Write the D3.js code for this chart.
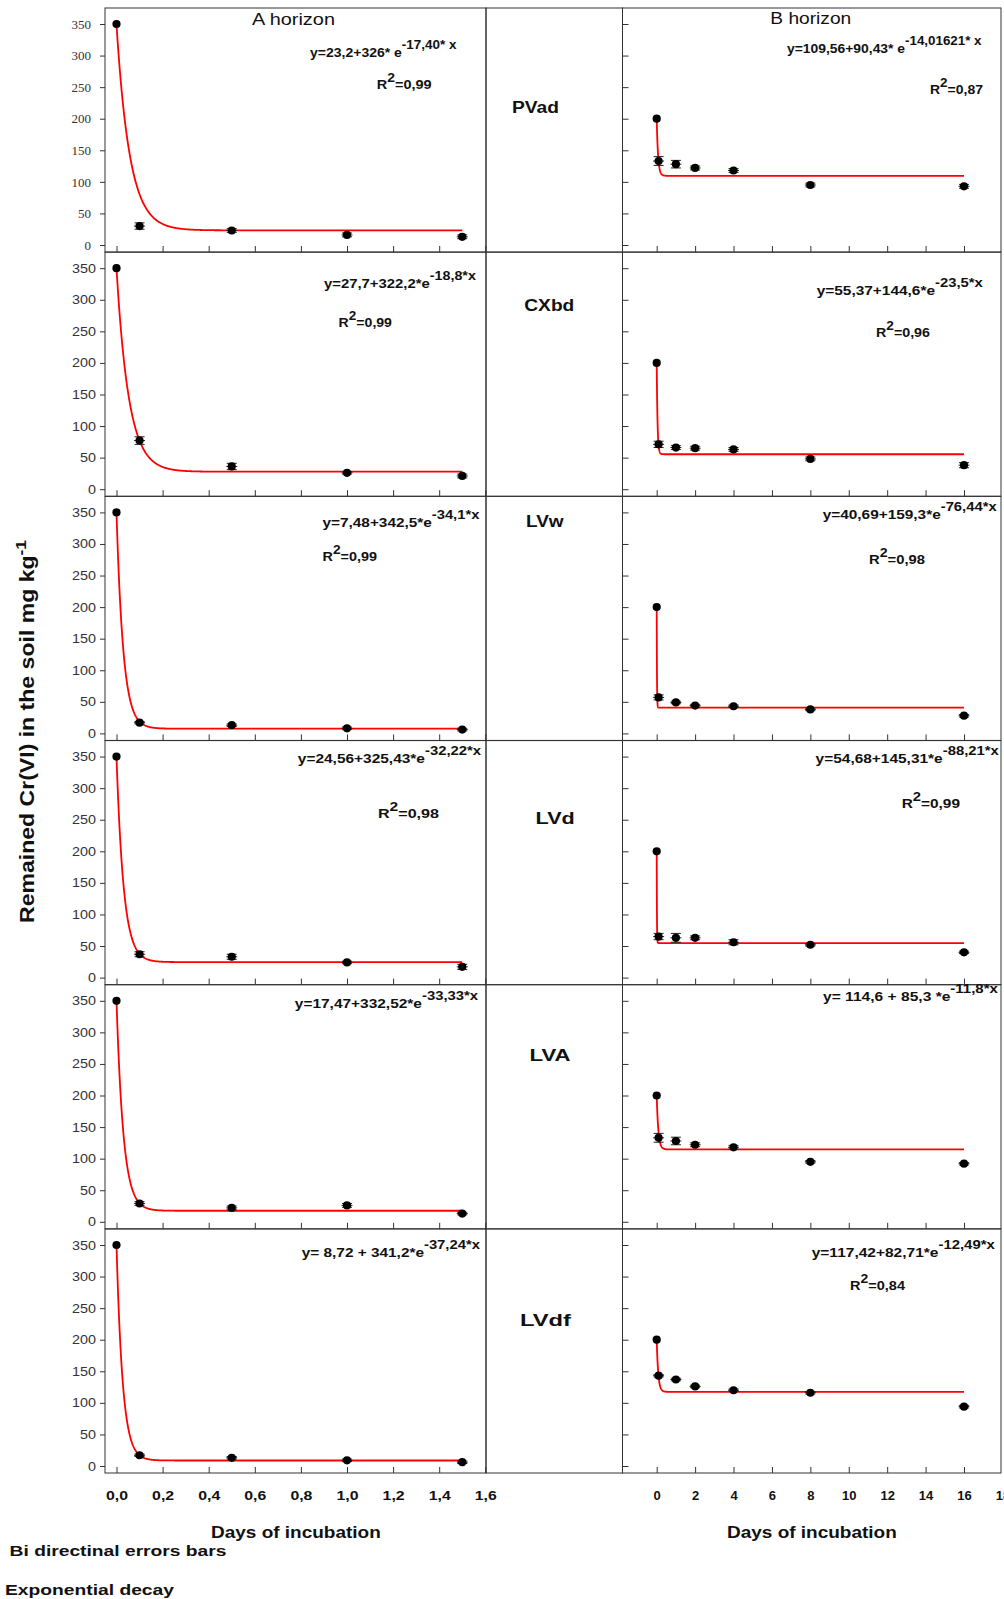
<!DOCTYPE html>
<html><head><meta charset="utf-8">
<script src="https://cdn.jsdelivr.net/npm/d3@7"></script>
<style>body{margin:0;background:#fff}svg{display:block}</style>
</head><body><svg id="c" width="1004" height="1599"></svg>
<script>
// ---------------- DATA ----------------
const soils = ["PVad","CXbd","LVw","LVd","LVA","LVdf"];
const daysA = [0, 0.1, 0.5, 1, 1.5];
const daysB = [0, 0.1, 1, 2, 4, 8, 16];
const crA = [
  [350, 30, 23, 16, 13],
  [350, 77, 36, 26, 21],
  [350, 17, 13, 8, 6],
  [350, 37, 33, 24, 17],
  [350, 29, 22, 26, 13],
  [350, 17, 13, 9, 6]
];
const crB = [
  [200, 133, 128, 122, 118, 95, 93],
  [200, 71, 66, 65, 63, 48, 38],
  [200, 57, 49, 44, 43, 38, 28],
  [200, 65, 63, 63, 56, 52, 40],
  [200, 133, 128, 122, 118, 95, 92],
  [200, 143, 137, 126, 120, 116, 94]
];
const errA = [
  [0, 5, 3, 3, 3],
  [0, 6, 5, 2, 3],
  [0, 2, 2, 2, 2],
  [0, 4, 4, 2, 4],
  [0, 3, 3, 3, 2],
  [0, 2, 2, 2, 2]
];
const errB = [
  [0, 7, 6, 3, 3, 3, 3],
  [0, 5, 3, 3, 3, 3, 4],
  [0, 4, 2, 2, 2, 2, 2],
  [0, 5, 7, 3, 4, 2, 2],
  [0, 7, 6, 3, 3, 2, 2],
  [0, 2, 2, 2, 2, 2, 2]
];
// fitted exponential decay y = a + b*exp(-k*x), as printed on the chart
const fitA_a = [23.2, 27.7, 7.48, 24.56, 17.47, 8.72];
const fitA_b = [326, 322.2, 342.5, 325.43, 332.52, 341.2];
const fitA_k = [17.40, 18.8, 34.1, 32.22, 33.33, 37.24];
const fitB_a = [109.56, 55.37, 40.69, 54.68, 114.6, 117.42];
const fitB_b = [90.43, 144.6, 159.3, 145.31, 85.3, 82.71];
const fitB_k = [14.01621, 23.5, 76.44, 88.21, 11.8, 12.49];
const eqA_main = ["y=23,2+326* e","y=27,7+322,2*e","y=7,48+342,5*e","y=24,56+325,43*e","y=17,47+332,52*e","y= 8,72 + 341,2*e"];
const eqA_exp  = ["-17,40* x","-18,8*x","-34,1*x","-32,22*x","-33,33*x","-37,24*x"];
const eqB_main = ["y=109,56+90,43* e","y=55,37+144,6*e","y=40,69+159,3*e","y=54,68+145,31*e","y= 114,6 + 85,3 *e","y=117,42+82,71*e"];
const eqB_exp  = ["-14,01621* x","-23,5*x","-76,44*x","-88,21*x","-11,8*x","-12,49*x"];
const r2A = ["0,99","0,99","0,99","0,98",null,null];
const r2B = ["0,87","0,96","0,98","0,99",null,"0,84"];
const yTicks = [0, 50, 100, 150, 200, 250, 300, 350];
const xTicksA = [0, 0.2, 0.4, 0.6, 0.8, 1.0, 1.2, 1.4, 1.6];
const xTicksB = [0, 2, 4, 6, 8, 10, 12, 14, 16, 18];

// ---------------- LAYOUT ----------------
const L = {
  rowTop0: 8, rowH: 244.2, boxH: 244,
  aLeft: 105, aRight: 486, midRight: 622.5, bRight: 1001,
  xA0: 116.5, xA16: 485.3, xB0: 656.7, xB16: 964,
  y0off: 237, y350off: 16
};
const eqPosA = [[310,56.7,146.7],[324,288,152],[322.5,526.7,157],[297.8,763.3,183.6],[294.8,1008.3,183.6],[301.7,1257.3,178.3]];
const r2PosA = [[376.7,89.3,55],[338.6,327,53.4],[322.5,560.7,54.5],[378,818,61],null,null];
const eqPosB = [[787,53,194.7],[816.7,295,166.3],[822.7,519.3,174],[815.6,763,183.4],[823,1001,175],[811.7,1256.7,183.3]];
const r2PosB = [[930,94,53],[876,336.7,54],[869,564,56],[901.7,808,58.3],null,[850,1290,55]];
const soilPos = [[512,112.7,47],[524.3,310.7,50],[526,527.3,37.6],[535.6,824.3,39.2],[529.6,1060.7,41],[520,1326,51]];

const SANS = "'Liberation Sans', Arial, Helvetica, sans-serif";
const SERIF = "'Liberation Serif', 'Times New Roman', serif";
const svg = d3.select("#c");

function stretchText(parent, x, y, width, parts, opts) {
  const g = parent.append("g");
  const t = g.append("text")
    .attr("font-family", opts.family || SANS)
    .attr("font-weight", opts.weight || "bold")
    .attr("fill", opts.fill || "#111");
  parts.forEach(p => {
    t.append("tspan").attr("dy", p.dy || 0).attr("font-size", p.size).text(p.t);
  });
  const w = t.node().getComputedTextLength();
  const sx = width ? width / w : 1;
  g.attr("transform", `translate(${x},${y}) scale(${sx},1)`);
  return g;
}

const fmtA = d => d3.format(".1f")(d).replace(".", ",");

for (let i = 0; i < 6; i++) {
  const top = L.rowTop0 + i * L.rowH;
  const bottom = top + L.boxH;
  const y = d3.scaleLinear().domain([0, 350]).range([top + L.y0off, top + L.y350off]);
  const xA = d3.scaleLinear().domain([0, 1.6]).range([L.xA0, L.xA16]);
  const xB = d3.scaleLinear().domain([0, 16]).range([L.xB0, L.xB16]);
  const last = i === 5;

  // boxes
  const box = (x0, x1) => svg.append("rect").attr("x", x0).attr("y", top)
    .attr("width", x1 - x0).attr("height", bottom - top)
    .attr("fill", "none").attr("stroke", "#333").attr("stroke-width", 1);
  box(L.aLeft, L.aRight); box(L.aRight, L.midRight); box(L.midRight, L.bRight);

  // A y axis (labels)
  const gy = svg.append("g").attr("transform", `translate(${L.aLeft},0)`)
    .call(d3.axisLeft(y).tickValues(yTicks).tickSize(5).tickPadding(i === 0 ? 9 : 4).tickFormat(d3.format("d")));
  gy.select(".domain").remove();
  gy.selectAll("line").attr("stroke", "#333");
  const pad = i === 0 ? 14 : 9;
  gy.selectAll("text").attr("font-family", i === 0 ? SERIF : SANS)
    .attr("font-size", i === 0 ? 13 : 12.5).attr("fill", "#333")
    .attr("x", 0).attr("transform", `translate(${-pad},0) scale(${i === 0 ? 1 : 1.15},1)`);

  // A x axis
  const gx = svg.append("g").attr("transform", `translate(0,${bottom})`)
    .call(d3.axisBottom(xA).tickValues(xTicksA).tickSize(-6).tickSizeOuter(0)
      .tickPadding(17.5).tickFormat(last ? fmtA : ""));
  gx.select(".domain").remove();
  gx.selectAll("line").attr("stroke", "#333");
  gx.selectAll("text").attr("font-family", SANS).attr("font-weight", "bold").attr("font-size", 13)
    .attr("fill", "#111").attr("transform", "scale(1.22,1)");

  // B y axis (inside ticks, no labels)
  const gyb = svg.append("g").attr("transform", `translate(${L.midRight},0)`)
    .call(d3.axisLeft(y).tickValues(yTicks).tickSize(-6).tickFormat(""));
  gyb.select(".domain").remove();
  gyb.selectAll("line").attr("stroke", "#333");

  // B x axis
  const gxb = svg.append("g").attr("transform", `translate(0,${bottom})`)
    .call(d3.axisBottom(xB).tickValues(xTicksB).tickSize(-6).tickSizeOuter(0)
      .tickPadding(17.5).tickFormat(last ? d3.format("d") : ""));
  gxb.select(".domain").remove();
  gxb.selectAll("line").attr("stroke", "#333").filter(d => d > 16).remove();
  gxb.selectAll("text").attr("font-family", SANS).attr("font-weight", "bold").attr("font-size", 13).attr("fill", "#111");

  // fitted curves
  const line = d3.line().x(d => d[0]).y(d => d[1]);
  const curveA = d3.range(0, 1.5001, 0.002).map(t => [xA(t), y(fitA_a[i] + fitA_b[i] * Math.exp(-fitA_k[i] * t))]);
  const curveB = d3.range(0, 16.0001, 0.005).map(t => [xB(t), y(fitB_a[i] + fitB_b[i] * Math.exp(-fitB_k[i] * t))]);
  [curveA, curveB].forEach(c => svg.append("path").attr("d", line(c))
    .attr("fill", "none").attr("stroke", "#ff0000").attr("stroke-width", 1.8));

  // error bars + points
  const drawPts = (xs, vals, errs, xS) => {
    const g = svg.append("g");
    vals.forEach((v, j) => {
      const cx = xS(xs[j]);
      const e = errs[j];
      if (e > 0) {
        g.append("line").attr("x1", cx).attr("x2", cx).attr("y1", y(v - e)).attr("y2", y(v + e))
          .attr("stroke", "#222").attr("stroke-width", 1);
        [v - e, v + e].forEach(w => g.append("line").attr("x1", cx - 5).attr("x2", cx + 5)
          .attr("y1", y(w)).attr("y2", y(w)).attr("stroke", "#222").attr("stroke-width", 1));
        g.append("line").attr("x1", cx - 5.5).attr("x2", cx + 5.5).attr("y1", y(v)).attr("y2", y(v))
          .attr("stroke", "#222").attr("stroke-width", 1);
      }
      g.append("circle").attr("cx", cx).attr("cy", y(v)).attr("r", 4.1).attr("fill", "#000");
    });
  };
  drawPts(daysA, crA[i], errA[i], xA);
  drawPts(daysB, crB[i], errB[i], xB);

  // equations
  const eqParts = (m, e) => [{t: m, size: 13}, {t: e, size: 12.5, dy: -8}];
  const r2Parts = r => [{t: "R", size: 13}, {t: "2", size: 12.5, dy: -7}, {t: "=" + r, size: 13, dy: 7}];
  stretchText(svg, eqPosA[i][0], eqPosA[i][1], eqPosA[i][2], eqParts(eqA_main[i], eqA_exp[i]), {});
  stretchText(svg, eqPosB[i][0], eqPosB[i][1], eqPosB[i][2], eqParts(eqB_main[i], eqB_exp[i]), {});
  if (r2A[i]) stretchText(svg, r2PosA[i][0], r2PosA[i][1], r2PosA[i][2], r2Parts(r2A[i]), {});
  if (r2B[i]) stretchText(svg, r2PosB[i][0], r2PosB[i][1], r2PosB[i][2], r2Parts(r2B[i]), {});

  // soil label
  stretchText(svg, soilPos[i][0], soilPos[i][1], soilPos[i][2], [{t: soils[i], size: 17}], {});
}

// titles
stretchText(svg, 252, 25, 83, [{t: "A horizon", size: 17}], {weight: "normal"});
stretchText(svg, 770.3, 24, 81, [{t: "B horizon", size: 17}], {weight: "normal"});

// axis titles
stretchText(svg, 211, 1538, 170, [{t: "Days of incubation", size: 16}], {});
stretchText(svg, 727, 1538, 170, [{t: "Days of incubation", size: 16}], {});
stretchText(svg, 9.6, 1556, 217, [{t: "Bi directinal errors bars", size: 15}], {});
stretchText(svg, 5, 1595, 169, [{t: "Exponential decay", size: 15}], {});

// y axis title (rotated)
const yt = svg.append("g").attr("transform", "translate(33.5,923) rotate(-90)");
stretchText(yt, 0, 0, 383, [{t: "Remained Cr(VI) in the soil mg kg", size: 20}, {t: "-1", size: 15, dy: -8}], {});
</script>
</body></html>
